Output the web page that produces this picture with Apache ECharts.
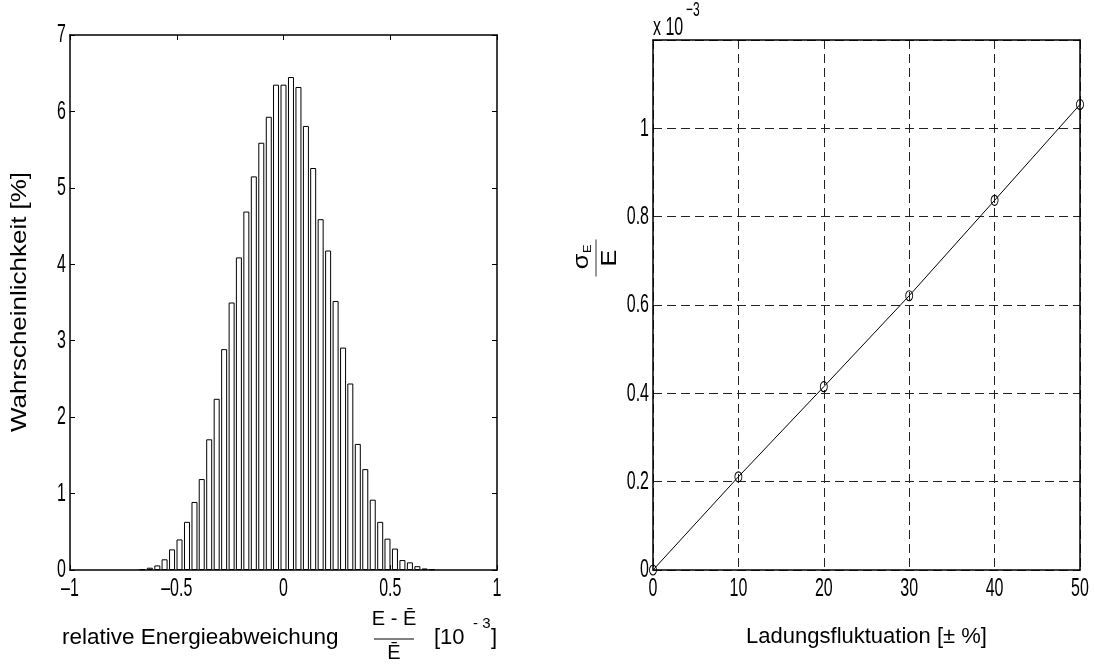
<!DOCTYPE html>
<html>
<head>
<meta charset="utf-8">
<script src="https://cdn.jsdelivr.net/npm/echarts@6/dist/echarts.min.js"></script>
<style>
  html, body { margin: 0; padding: 0; background: #fff; }
  #chart { width: 1095px; height: 669px; }
</style>
</head>
<body>
<div id="chart"></div>
<script>
// Histogram of the relative energy deviation (bin centres in units of 1e-3, probability in %)
const binCenters = [-0.661, -0.626, -0.591, -0.557, -0.522, -0.487, -0.452, -0.417, -0.383, -0.348,
                    -0.313, -0.278, -0.243, -0.209, -0.174, -0.139, -0.104, -0.069, -0.035, 0.000,
                     0.035,  0.070,  0.105,  0.139,  0.174,  0.209,  0.244,  0.279,  0.313,  0.348,
                     0.383,  0.418,  0.453,  0.487,  0.522,  0.557,  0.592,  0.627,  0.661,  0.696];
const probability = [0.01, 0.03, 0.06, 0.14, 0.27, 0.40, 0.63, 0.89, 1.19, 1.71,
                     2.24, 2.89, 3.50, 4.09, 4.69, 5.15, 5.59, 5.93, 6.35, 6.35,
                     6.45, 6.32, 5.81, 5.26, 4.59, 4.18, 3.52, 2.91, 2.44, 1.65,
                     1.32, 0.92, 0.63, 0.41, 0.28, 0.13, 0.10, 0.05, 0.02, 0.01];

// Relative energy spread sigma_E / E (x 1e-3) versus charge fluctuation (± %)
const fluctuation = [0, 10, 20, 30, 40, 50];
const sigmaRel = [0, 0.211, 0.415, 0.621, 0.837, 1.054];

// Tick labels
const histXTicks = [-1, -0.5, 0, 0.5, 1];
const histXTickLabels = ['\u20131', '\u20130.5', '0', '0.5', '1'];
const histYTicks = [0, 1, 2, 3, 4, 5, 6, 7];
const histYTickLabels = ['0', '1', '2', '3', '4', '5', '6', '7'];
const fluctXTicks = [0, 10, 20, 30, 40, 50];
const fluctXTickLabels = ['0', '10', '20', '30', '40', '50'];
const fluctYTicks = [0, 0.2, 0.4, 0.6, 0.8, 1];
const fluctYTickLabels = ['0', '0.2', '0.4', '0.6', '0.8', '1'];

const histX = { min: -1, max: 1, interval: 0.5 };
const histY = { min: 0, max: 7, interval: 1 };
const fluctX = { min: 0, max: 50, interval: 10 };
const fluctY = { min: 0, max: 1.2, interval: 0.2 };

const textFont = '"Liberation Sans", Arial, sans-serif';
// tick numbers are drawn narrow and tall
const tickFont = '20px ' + textFont;
const tickScale = { scaleX: 0.8, scaleY: 1.33 };

const chart = echarts.init(document.getElementById('chart'), null, { renderer: 'canvas' });

const boxLine = { show: true, onZero: false, lineStyle: { color: '#000', width: 1.5 } };
const innerTick = { show: true, inside: true, length: 5, lineStyle: { color: '#000' } };
const dashed = { show: true, lineStyle: { color: '#222', width: 1, type: [9, 5] } };
const noLabel = { show: false };

chart.setOption({
  animation: false,
  backgroundColor: '#fff',
  grid: [
    { left: 70, top: 35, width: 427, height: 535 },
    { left: 653, top: 40, width: 427, height: 530 }
  ],
  xAxis: [
    { gridIndex: 0, type: 'value', ...histX, position: 'bottom', axisLine: boxLine,
      axisTick: innerTick, axisLabel: noLabel, splitLine: { show: false } },
    { gridIndex: 0, type: 'value', ...histX, position: 'top', axisLine: boxLine,
      axisTick: innerTick, axisLabel: noLabel, splitLine: { show: false } },
    { gridIndex: 1, type: 'value', ...fluctX, position: 'bottom', axisLine: boxLine,
      axisTick: { show: false }, axisLabel: noLabel, splitLine: dashed,
      name: 'Ladungsfluktuation [\u00B1 %]', nameLocation: 'middle', nameGap: 56,
      nameTextStyle: { color: '#000', fontFamily: textFont, fontSize: 22 } },
    { gridIndex: 1, type: 'value', ...fluctX, position: 'top', axisLine: boxLine,
      axisTick: { show: false }, axisLabel: noLabel, splitLine: { show: false } }
  ],
  yAxis: [
    { gridIndex: 0, type: 'value', ...histY, position: 'left', axisLine: boxLine,
      axisTick: innerTick, axisLabel: noLabel, splitLine: { show: false } },
    { gridIndex: 0, type: 'value', ...histY, position: 'right', axisLine: boxLine,
      axisTick: innerTick, axisLabel: noLabel, splitLine: { show: false } },
    { gridIndex: 1, type: 'value', ...fluctY, position: 'left', axisLine: boxLine,
      axisTick: { show: false }, axisLabel: noLabel, splitLine: dashed },
    { gridIndex: 1, type: 'value', ...fluctY, position: 'right', axisLine: boxLine,
      axisTick: { show: false }, axisLabel: noLabel, splitLine: { show: false } }
  ],
  series: [
    {
      type: 'bar', xAxisIndex: 0, yAxisIndex: 0,
      data: binCenters.map((c, i) => [c, probability[i]]),
      barWidth: 6,
      itemStyle: { color: '#fff', borderColor: '#000', borderWidth: 1 },
      silent: true
    },
    {
      type: 'line', xAxisIndex: 2, yAxisIndex: 2,
      data: fluctuation.map((f, i) => [f, sigmaRel[i]]),
      lineStyle: { color: '#000', width: 1 },
      symbol: 'path://M3.5,0 A3.5,5 0 1,1 3.49,0 Z',
      symbolSize: [7, 10],
      itemStyle: { color: 'rgba(0,0,0,0)', borderColor: '#000', borderWidth: 1 },
      showSymbol: true, z: 5, silent: true
    }
  ]
});

// Tick labels placed through the axes' own scales
const labels = [];
function tickText(x, y, text, align, vAlign) {
  labels.push({
    type: 'text', x, y, ...tickScale, silent: true,
    style: { text, fill: '#000', font: tickFont, align, verticalAlign: vAlign }
  });
}
const histBottom = chart.convertToPixel({ yAxisIndex: 0 }, 0);
const histLeft = chart.convertToPixel({ xAxisIndex: 0 }, -1);
histXTicks.forEach((v, i) =>
  tickText(chart.convertToPixel({ xAxisIndex: 0 }, v), histBottom + 5, histXTickLabels[i], 'center', 'top'));
histYTicks.forEach((v, i) =>
  tickText(histLeft - 4, chart.convertToPixel({ yAxisIndex: 0 }, v), histYTickLabels[i], 'right', 'middle'));
const fluctBottom = chart.convertToPixel({ yAxisIndex: 2 }, 0);
const fluctLeft = chart.convertToPixel({ xAxisIndex: 2 }, 0);
fluctXTicks.forEach((v, i) =>
  tickText(chart.convertToPixel({ xAxisIndex: 2 }, v), fluctBottom + 5, fluctXTickLabels[i], 'center', 'top'));
fluctYTicks.forEach((v, i) =>
  tickText(fluctLeft - 4, chart.convertToPixel({ yAxisIndex: 2 }, v), fluctYTickLabels[i], 'right', 'middle'));

const captions = [
  // y-axis caption of the histogram
  {
    type: 'text', x: 20, y: 302, rotation: Math.PI / 2, scaleX: 1.18,
    style: { text: 'Wahrscheinlichkeit [%]', fill: '#000', font: '22px ' + textFont,
             align: 'center', verticalAlign: 'middle' }
  },
  // x-axis caption of the histogram
  {
    type: 'text', x: 62, y: 638,
    style: { text: 'relative Energieabweichung', fill: '#000', font: '22.5px ' + textFont, verticalAlign: 'middle' }
  },
  {
    type: 'text', x: 394, y: 629,
    style: { text: 'E - \u0112', fill: '#000', font: '20px ' + textFont, align: 'center', verticalAlign: 'bottom' }
  },
  {
    type: 'line', shape: { x1: 374, y1: 639, x2: 414, y2: 639 },
    style: { stroke: '#000', lineWidth: 1 }
  },
  {
    type: 'text', x: 394, y: 643,
    style: { text: '\u0112', fill: '#000', font: '20px ' + textFont, align: 'center', verticalAlign: 'top' }
  },
  {
    type: 'text', x: 434, y: 638,
    style: { text: '[10', fill: '#000', font: '22px ' + textFont, verticalAlign: 'middle' }
  },
  {
    type: 'text', x: 473, y: 624,
    style: { text: '- 3', fill: '#000', font: '15px ' + textFont, verticalAlign: 'middle' }
  },
  {
    type: 'text', x: 491, y: 638,
    style: { text: ']', fill: '#000', font: '22px ' + textFont, verticalAlign: 'middle' }
  },
  // exponent of the right-hand y axis
  {
    type: 'text', x: 653, y: 28, ...tickScale,
    style: { text: 'x 10', fill: '#000', font: tickFont, verticalAlign: 'middle' }
  },
  {
    type: 'text', x: 686, y: 10, ...tickScale,
    style: { text: '\u22123', fill: '#000', font: '15px ' + textFont, verticalAlign: 'middle' }
  },
  // y-axis caption sigma_E / E, rotated
  {
    type: 'group', x: 596, y: 258, rotation: Math.PI / 2, scaleX: 1.15,
    children: [
      {
        type: 'text', x: -3, y: -3,
        style: { text: '\u03C3', fill: '#000', font: '22px ' + textFont, align: 'center', verticalAlign: 'bottom' }
      },
      {
        type: 'text', x: 8, y: -3,
        style: { text: 'E', fill: '#000', font: '11px ' + textFont, align: 'center', verticalAlign: 'bottom' }
      },
      {
        type: 'line', shape: { x1: -16, y1: 0, x2: 16, y2: 0 },
        style: { stroke: '#555', lineWidth: 1.2 }
      },
      {
        type: 'text', x: 0, y: 3,
        style: { text: 'E', fill: '#000', font: '22px ' + textFont, align: 'center', verticalAlign: 'top' }
      }
    ]
  }
];

chart.setOption({ graphic: captions.concat(labels) });
</script>
</body>
</html>
